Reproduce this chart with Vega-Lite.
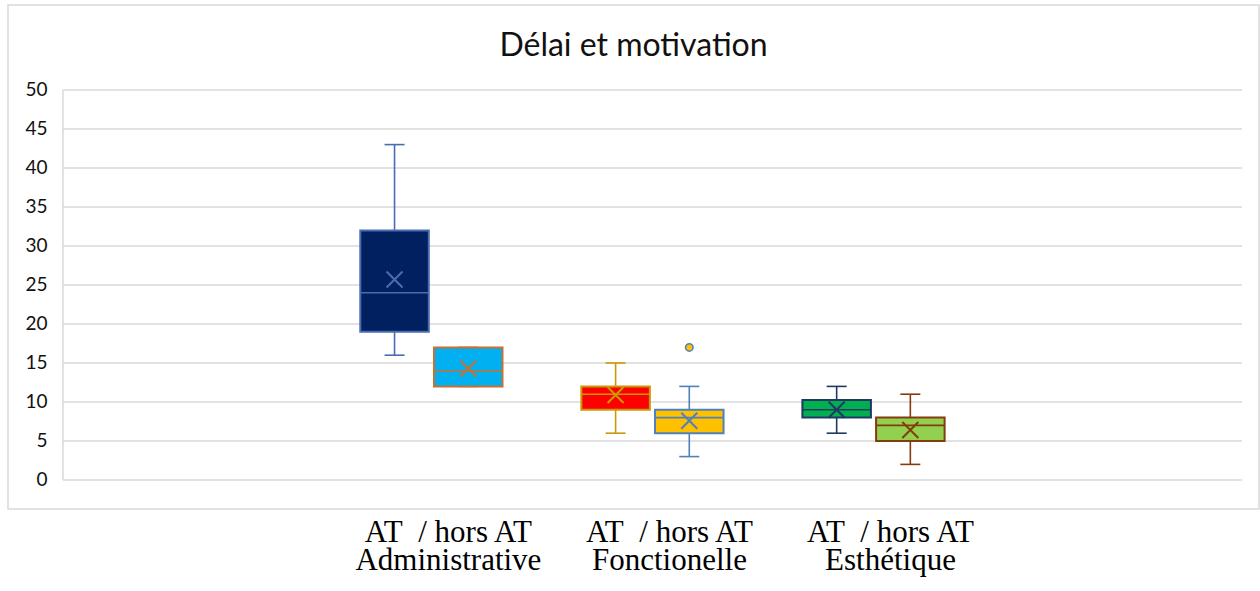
{
  "$schema": "https://vega.github.io/schema/vega-lite/v6.json",
  "width": 1251,
  "height": 504,
  "autosize": {"type": "none"},
  "padding": {"left": 8, "top": 5, "right": 1, "bottom": 82},
  "background": "#ffffff",
  "title": {
    "text": "Délai et motivation",
    "font": "Lato",
    "fontSize": 32,
    "fontWeight": "normal",
    "color": "#111111",
    "anchor": "middle",
    "frame": "bounds",
    "baseline": "alphabetic",
    "offset": -83
  },
  "datasets": {
    "stats": [
      {"groupe": "Administrative", "sous": "AT", "serie": "Administrative AT", "min": 16, "q1": 19, "median": 24, "q3": 32, "max": 43, "mean": 25.7},
      {"groupe": "Administrative", "sous": "hors AT", "serie": "Administrative hors AT", "min": 12, "q1": 12, "median": 14, "q3": 17, "max": 17, "mean": 14.3},
      {"groupe": "Fonctionelle", "sous": "AT", "serie": "Fonctionelle AT", "min": 6, "q1": 9, "median": 11, "q3": 12, "max": 15, "mean": 10.9},
      {"groupe": "Fonctionelle", "sous": "hors AT", "serie": "Fonctionelle hors AT", "min": 3, "q1": 6, "median": 8, "q3": 9, "max": 12, "mean": 7.6},
      {"groupe": "Esthétique", "sous": "AT", "serie": "Esthétique AT", "min": 6, "q1": 8, "median": 9, "q3": 10.25, "max": 12, "mean": 9.0},
      {"groupe": "Esthétique", "sous": "hors AT", "serie": "Esthétique hors AT", "min": 2, "q1": 5, "median": 7, "q3": 8, "max": 11, "mean": 6.4}
    ],
    "outliers": [
      {"groupe": "Fonctionelle", "sous": "hors AT", "serie": "Fonctionelle hors AT", "value": 17}
    ],
    "grille": [
      {"v": 0}, {"v": 5}, {"v": 10}, {"v": 15}, {"v": 20}, {"v": 25},
      {"v": 30}, {"v": 35}, {"v": 40}, {"v": 45}, {"v": 50}
    ]
  },
  "layer": [
    {
      "data": {"name": "grille"},
      "mark": {"type": "rule", "stroke": "#d9d9d9", "strokeWidth": 1.5},
      "encoding": {
        "x": {
          "datum": "g",
          "bandPosition": -0.1667,
          "scale": {"domain": ["g", "Administrative", "Fonctionelle", "Esthétique", "d"], "paddingInner": 0, "paddingOuter": 0.3296, "align": 0.63},
          "axis": {
            "title": null,
            "domain": false,
            "ticks": false,
            "grid": false,
            "labelExpr": "indexof(['Administrative', 'Fonctionelle', 'Esthétique'], datum.label) >= 0 ? ['AT\u00a0 / hors AT', datum.label] : ''",
            "labelFont": "Liberation Serif",
            "labelFontSize": 31,
            "labelLineHeight": 28,
            "labelColor": "#000000",
            "labelPadding": 8,
            "labelOffset": 17,
            "labelAngle": 0,
            "labelOverlap": false,
            "labelBound": false,
            "labelLimit": 600
          }
        },
        "x2": {"datum": "d", "bandPosition": 1.1667},
        "y": {"field": "v", "type": "quantitative", "scale": {"domain": [-3.718, 60.897], "nice": false, "zero": false}, "axis": {"title": null, "values": [0, 5, 10, 15, 20, 25, 30, 35, 40, 45, 50]}}
      }
    },
    {
      "data": {"values": [{"bas": 0, "haut": 50}]},
      "mark": {"type": "rule", "stroke": "#d9d9d9", "strokeWidth": 1.5},
      "encoding": {
        "x": {
          "datum": "g",
          "bandPosition": -0.1667,
          "axis": {
            "title": null,
            "domain": false,
            "ticks": false,
            "grid": false,
            "labelExpr": "indexof(['Administrative', 'Fonctionelle', 'Esthétique'], datum.label) >= 0 ? ['AT\u00a0 / hors AT', datum.label] : ''",
            "labelFont": "Liberation Serif",
            "labelFontSize": 31,
            "labelLineHeight": 28,
            "labelColor": "#000000",
            "labelPadding": 8,
            "labelOffset": 17,
            "labelAngle": 0,
            "labelOverlap": false,
            "labelBound": false,
            "labelLimit": 600
          }
        },
        "y": {"field": "bas", "type": "quantitative", "axis": {"title": null, "values": [0, 5, 10, 15, 20, 25, 30, 35, 40, 45, 50]}},
        "y2": {"field": "haut"}
      }
    },
    {
      "data": {"name": "stats"},
      "encoding": {
        "x": {
          "field": "groupe",
          "type": "nominal",
          "sort": null,
          "axis": {
            "title": null,
            "domain": false,
            "ticks": false,
            "grid": false,
            "labelExpr": "indexof(['Administrative', 'Fonctionelle', 'Esthétique'], datum.label) >= 0 ? ['AT\u00a0 / hors AT', datum.label] : ''",
            "labelFont": "Liberation Serif",
            "labelFontSize": 31,
            "labelLineHeight": 28,
            "labelColor": "#000000",
            "labelPadding": 8,
            "labelOffset": 17,
            "labelAngle": 0,
            "labelOverlap": false,
            "labelBound": false,
            "labelLimit": 600
          }
        },
        "xOffset": {
          "field": "sous",
          "type": "nominal",
          "sort": null,
          "scale": {"domain": ["AT", "hors AT"], "paddingInner": 0.07, "paddingOuter": 0.535}
        }
      },
      "layer": [
        {
          "mark": {"type": "rule", "strokeWidth": 1.6},
          "encoding": {
            "y": {"field": "min", "type": "quantitative", "axis": {"title": null, "values": [0, 5, 10, 15, 20, 25, 30, 35, 40, 45, 50]}},
            "y2": {"field": "max"},
            "stroke": {
              "field": "serie",
              "type": "nominal",
              "legend": null,
              "scale": {
                "domain": ["Administrative AT", "Administrative hors AT", "Fonctionelle AT", "Fonctionelle hors AT", "Esthétique AT", "Esthétique hors AT"],
                "range": ["#4A6DB0", "#C8702F", "#C99A06", "#4F81BD", "#1F3864", "#843C0C"]
              }
            }
          }
        },
        {
          "mark": {"type": "tick", "size": 20, "thickness": 1.6, "opacity": 1},
          "encoding": {
            "y": {"field": "max", "type": "quantitative", "axis": {"title": null, "values": [0, 5, 10, 15, 20, 25, 30, 35, 40, 45, 50]}},
            "color": {
              "field": "serie",
              "type": "nominal",
              "legend": null,
              "scale": {
                "domain": ["Administrative AT", "Administrative hors AT", "Fonctionelle AT", "Fonctionelle hors AT", "Esthétique AT", "Esthétique hors AT"],
                "range": ["#4A6DB0", "#C8702F", "#C99A06", "#4F81BD", "#1F3864", "#843C0C"]
              }
            }
          }
        },
        {
          "mark": {"type": "tick", "size": 20, "thickness": 1.6, "opacity": 1},
          "encoding": {
            "y": {"field": "min", "type": "quantitative", "axis": {"title": null, "values": [0, 5, 10, 15, 20, 25, 30, 35, 40, 45, 50]}},
            "color": {"field": "serie", "type": "nominal", "legend": null}
          }
        },
        {
          "mark": {"type": "bar", "strokeWidth": 2, "fillOpacity": 1},
          "encoding": {
            "y": {"field": "q1", "type": "quantitative", "axis": {"title": null, "values": [0, 5, 10, 15, 20, 25, 30, 35, 40, 45, 50]}},
            "y2": {"field": "q3"},
            "fill": {
              "field": "serie",
              "type": "nominal",
              "legend": null,
              "scale": {
                "domain": ["Administrative AT", "Administrative hors AT", "Fonctionelle AT", "Fonctionelle hors AT", "Esthétique AT", "Esthétique hors AT"],
                "range": ["#002060", "#00B0F0", "#FF0000", "#FFC000", "#00B050", "#92D050"]
              }
            },
            "stroke": {"field": "serie", "type": "nominal", "legend": null}
          }
        },
        {
          "mark": {"type": "bar", "fill": null, "fillOpacity": 0, "strokeWidth": 1.6},
          "encoding": {
            "y": {"field": "median", "type": "quantitative", "axis": {"title": null, "values": [0, 5, 10, 15, 20, 25, 30, 35, 40, 45, 50]}},
            "y2": {"field": "median"},
            "stroke": {"field": "serie", "type": "nominal", "legend": null}
          }
        },
        {
          "mark": {"type": "point", "shape": "M-1,-1L1,1M-1,1L1,-1", "filled": false, "size": 256, "strokeWidth": 2, "opacity": 1},
          "encoding": {
            "y": {"field": "mean", "type": "quantitative", "axis": {"title": null, "values": [0, 5, 10, 15, 20, 25, 30, 35, 40, 45, 50]}},
            "stroke": {"field": "serie", "type": "nominal", "legend": null}
          }
        }
      ]
    },
    {
      "data": {"name": "outliers"},
      "mark": {"type": "point", "shape": "circle", "filled": true, "size": 55, "strokeWidth": 1.6, "opacity": 1},
      "encoding": {
        "x": {
          "field": "groupe",
          "type": "nominal",
          "sort": null,
          "axis": {
            "title": null,
            "domain": false,
            "ticks": false,
            "grid": false,
            "labelExpr": "indexof(['Administrative', 'Fonctionelle', 'Esthétique'], datum.label) >= 0 ? ['AT\u00a0 / hors AT', datum.label] : ''",
            "labelFont": "Liberation Serif",
            "labelFontSize": 31,
            "labelLineHeight": 28,
            "labelColor": "#000000",
            "labelPadding": 8,
            "labelOffset": 17,
            "labelAngle": 0,
            "labelOverlap": false,
            "labelBound": false,
            "labelLimit": 600
          }
        },
        "xOffset": {"field": "sous", "type": "nominal", "sort": null},
        "y": {"field": "value", "type": "quantitative", "axis": {"title": null, "values": [0, 5, 10, 15, 20, 25, 30, 35, 40, 45, 50]}},
        "fill": {"field": "serie", "type": "nominal", "legend": null},
        "stroke": {"field": "serie", "type": "nominal", "legend": null}
      }
    }
  ],
  "config": {
    "view": {"stroke": "#d9d9d9", "strokeWidth": 1.5},
    "axisY": {
      "grid": false,
      "domain": false,
      "ticks": false,
      "offset": -55,
      "labelFont": "Lato",
      "labelFontSize": 19,
      "labelColor": "#111111",
      "labelPadding": 16,
      "labelOverlap": false
    }
  }
}
